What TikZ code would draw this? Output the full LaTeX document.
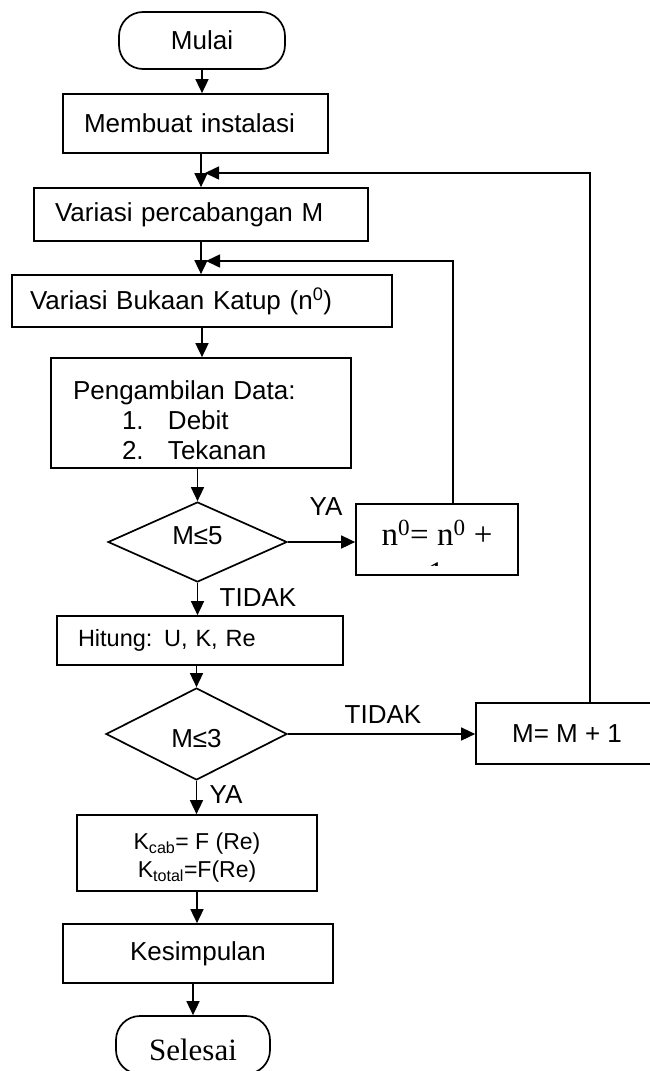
\documentclass[tikz,border=0pt]{standalone}
\usepackage{fontspec}
\setmainfont{Liberation Sans}
\newfontfamily\tms{Liberation Serif}
\usetikzlibrary{shapes.geometric,arrows.meta}
\begin{document}
\begin{tikzpicture}[x=1pt,y=-1pt,
  every node/.style={font=\fontsize{26}{30}\selectfont},
  box/.style={draw,line width=1.7pt,rectangle,inner sep=0pt},
  term/.style={draw,line width=1.7pt,rectangle,rounded corners=24pt,inner sep=0pt},
  dec/.style={draw,line width=1.7pt,diamond,inner sep=0pt},
  arr/.style={line width=1.6pt,-{Triangle[length=14pt,width=13pt]}},
  lbl/.style={inner sep=0pt}]
\useasboundingbox (0,0) rectangle (650,1071);
\begin{scope}
\clip (0,0) rectangle (650,1071);
% nodes
\node[term, minimum width=166pt, minimum height=57pt] (mulai) at (202,40.5) {Mulai};
\node[box, minimum width=265pt, minimum height=59pt, text width=223pt, inner xsep=21pt, align=left] (membuat) at (195.5,123.5) {Membuat instalasi};
\node[box, minimum width=334pt, minimum height=53pt, text width=292pt, inner xsep=21pt, align=left] (vpm) at (201,214.5) {Variasi percabangan M};
\node[box, minimum width=380pt, minimum height=52pt, text width=344pt, inner xsep=18pt, align=left] (vbk) at (202,301) {Variasi Bukaan Katup (n\textsuperscript{0})};
\node[box, minimum width=300pt, minimum height=110pt, text width=256pt, inner xsep=22pt, align=left] (peng) at (201,413)
  {\rule{0pt}{33pt}Pengambilan Data:\\\hspace*{49pt}\makebox[46pt][l]{1.}Debit\\\hspace*{49pt}\makebox[46pt][l]{2.}Tekanan};
\node[dec, minimum width=179pt, minimum height=80pt] (d1) at (197.5,542) {\raisebox{-2pt}[0pt][0pt]{M≤5}};
\node[box, minimum width=162pt, minimum height=71pt] (n0) at (437,539.5) {};
\node[box, minimum width=286pt, minimum height=49pt, text width=244pt, inner xsep=21pt, align=left, font=\fontsize{23.5}{28}\selectfont] (hitung) at (200,640.5) {Hitung: U, K, Re};
\node[dec, minimum width=181pt, minimum height=92pt] (d2) at (196.5,734) {\raisebox{-13pt}[0pt][0pt]{M≤3}};
\node[box, minimum width=182pt, minimum height=61pt] (mbox) at (567,733.5) {M= M + 1};
\node[box, minimum width=240pt, minimum height=76pt, align=center, font=\fontsize{23}{28}\selectfont] (kbox) at (197,853)
  {\rule{0pt}{26pt}K\textsubscript{cab}= F (Re)\\K\textsubscript{total}=F(Re)};
\node[box, minimum width=270pt, minimum height=59pt] (kes) at (198,953.5) {Kesimpulan};
\node[term, minimum width=154pt, minimum height=58pt, font=\tms\fontsize{31}{36}\selectfont] (sel) at (193,1045) {\raisebox{-15pt}[0pt][0pt]{Selesai}};
% text of the increment box, clipped as in the reference
\begin{scope}
\clip (358,506) rectangle (516,565);
\node[anchor=base, inner sep=0pt, font=\tms\fontsize{33}{38}\selectfont] (n0t) at (437,545) {n\textsuperscript{0}= n\textsuperscript{0} +};
\node[anchor=base, inner sep=0pt, font=\tms\fontsize{33}{38}\selectfont] (n0one) at (436,584) {1};
\end{scope}
% labels
\node[lbl] (ya1) at (326,507) {YA};
\node[lbl] (td1) at (258,598) {TIDAK};
\node[lbl] (td2) at (383,715) {TIDAK};
\node[lbl] (ya2) at (226,795) {YA};
% junctions
\coordinate (j1) at (205,173);
\coordinate (j2) at (206,261);
% connectors
\draw[arr] (mulai.south) -- (mulai.south |- membuat.north);
\draw[arr] (vpm.north |- membuat.south) -- (vpm.north);
\draw[arr] (vpm.south) -- (vpm.south |- vbk.north);
\draw[arr] (vbk.south) -- (vbk.south |- peng.north);
\draw[arr] (d1.north |- peng.south) -- (d1.north);
\draw[arr] (d1.south) -- (d1.south |- hitung.north);
\draw[arr] (d2.north |- hitung.south) -- (d2.north);
\draw[arr] (d2.south) -- (d2.south |- kbox.north);
\draw[arr] (kbox.south) -- (kbox.south |- kes.north);
\draw[arr] (sel.north |- kes.south) -- (sel.north);
\draw[arr] (d1.east) -- (d1.east -| n0.west);
\draw[arr] (d2.east) -- (d2.east -| mbox.west);
\draw[arr] ([xshift=23pt]mbox.north) |- (j1);
\draw[arr] ([xshift=16pt]n0.north) |- (j2);
\end{scope}
\end{tikzpicture}
\end{document}
